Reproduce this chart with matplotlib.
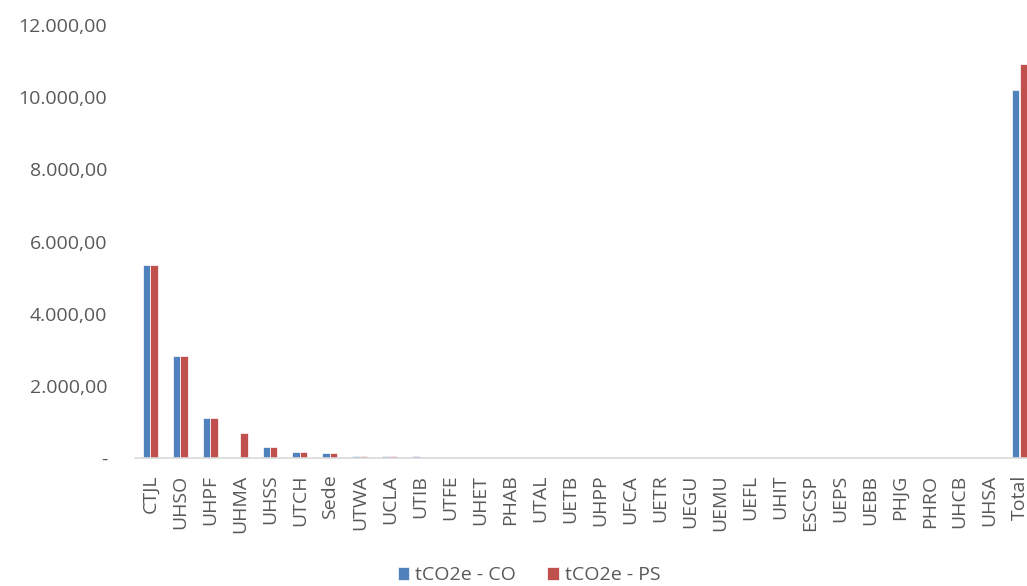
import numpy as np
import matplotlib.pyplot as plt
from matplotlib.ticker import FuncFormatter

categories = ['CTJL', 'UHSO', 'UHPF', 'UHMA', 'UHSS', 'UTCH', 'Sede', 'UTWA', 'UCLA',
              'UTIB', 'UTFE', 'UHET', 'PHAB', 'UTAL', 'UETB', 'UHPP', 'UFCA', 'UETR',
              'UEGU', 'UEMU', 'UEFL', 'UHIT', 'ESCSP', 'UEPS', 'UEBB', 'PHJG', 'PHRO',
              'UHCB', 'UHSA', 'Total']
co = [5350, 2830, 1120, 0, 300, 170, 130, 55, 50, 45, 15, 5, 4, 3, 3, 2, 2, 2,
      2, 1, 1, 1, 1, 1, 1, 1, 1, 1, 1, 10210]
ps = [5350, 2830, 1120, 700, 300, 170, 130, 55, 50, 25, 10, 5, 4, 3, 3, 2, 2, 2,
      2, 1, 1, 1, 1, 1, 1, 1, 1, 1, 1, 10930]
series_names = ['tCO2e - CO', 'tCO2e - PS']

plt.rcParams['font.family'] = ['Open Sans', 'DejaVu Sans']
grey = '#595959'

fig = plt.figure(figsize=(10.27, 5.86), dpi=100)
ax = fig.add_axes([0.1315, 0.2184, 0.876, 0.7389])

x = np.arange(len(categories))
w = 0.24
ax.bar(x - 0.13, co, w, color='#4F81BD', edgecolor='white', linewidth=0.5, label=series_names[0])
ax.bar(x + 0.13, ps, w, color='#C0504D', edgecolor='white', linewidth=0.5, label=series_names[1])

ax.set_xlim(-0.5, len(categories) - 0.5)
ax.set_ylim(0, 12000)
ax.set_yticks(np.arange(0, 12001, 2000))


def fmt(v, pos):
    if v == 0:
        return '-'
    s = '{:,.2f}'.format(v)
    return s.replace(',', 'X').replace('.', ',').replace('X', '.')


ax.yaxis.set_major_formatter(FuncFormatter(fmt))
ax.set_xticks(x)
ax.set_xticklabels(categories, rotation=90)
ax.tick_params(axis='both', length=0, colors=grey, labelsize=14)
ax.tick_params(axis='y', pad=20)
ax.tick_params(axis='x', pad=12)

for s in ['top', 'right', 'left']:
    ax.spines[s].set_visible(False)
ax.spines['bottom'].set_color('#D9D9D9')
ax.spines['bottom'].set_linewidth(1.2)

fig.legend(loc='lower center', bbox_to_anchor=(0.515, -0.027), ncol=2, frameon=False,
           fontsize=14, labelcolor=grey, handlelength=0.6, handleheight=0.6,
           handletextpad=0.3, columnspacing=1.6)

fig.savefig('out.png', dpi=100)
